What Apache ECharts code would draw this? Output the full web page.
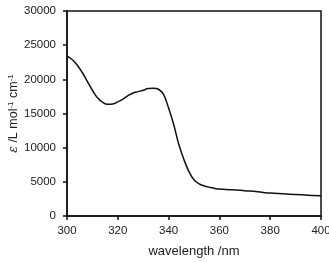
<!DOCTYPE html>
<html lang="en">
<head>
    <meta charset="UTF-8">
    <title>absorption spectrum</title>
    <script src="https://cdn.jsdelivr.net/npm/echarts@6/dist/echarts.min.js"></script>
    <style>
        html, body { margin: 0; padding: 0; background: #fff; }
        #main { width: 329px; height: 262px; }
    </style>
</head>
<body>
<div id="main"></div>
<script type="text/javascript">
    // wavelength (nm) and molar absorptivity
    var wavelength = [300, 302, 304, 306, 308, 310, 312, 314, 316, 318, 320, 322, 324, 326, 328, 330,
        332, 334, 336, 338, 340, 342, 344, 346, 348, 350, 352, 354, 356, 358, 360,
        365, 370, 375, 380, 385, 390, 395, 400];
    var epsilon = [23400, 22900, 22100, 21000, 19700, 18400, 17300, 16650, 16350, 16400, 16700, 17100, 17600, 18000, 18200, 18400,
        18650, 18700, 18550, 17800, 15800, 13400, 10500, 8300, 6500, 5300, 4700, 4400, 4200, 4050, 3950,
        3850, 3700, 3550, 3350, 3250, 3150, 3050, 2950];

    var myChart = echarts.init(document.getElementById('main'));
    var font = 'Liberation Sans, Arial, sans-serif';
    var txt = '#222';

    var points = [];
    for (var i = 0; i < wavelength.length; i++) {
        points.push([wavelength[i], epsilon[i]]);
    }

    var option = {
        animation: false,
        grid: {
            left: 67,
            right: 8,
            top: 11,
            bottom: 46,
            outerBoundsMode: 'none',
            show: true,
            borderColor: '#111',
            borderWidth: 1.5
        },
        xAxis: {
            type: 'value',
            min: 300,
            max: 400,
            interval: 20,
            name: 'wavelength /nm',
            nameLocation: 'middle',
            nameGap: 29,
            nameMoveOverlap: false,
            nameTextStyle: { fontFamily: font, fontSize: 13, color: txt },
            axisLine: { lineStyle: { color: '#111', width: 1.5 } },
            axisTick: { inside: false, length: 4, lineStyle: { color: '#111', width: 1.5 } },
            axisLabel: { fontFamily: font, fontSize: 11.5, color: txt, margin: 9 },
            splitLine: { show: false }
        },
        yAxis: {
            type: 'value',
            min: 0,
            max: 30000,
            interval: 5000,
            name: '{e|ε} /L mol{s|-1} cm{s|-1}',
            nameLocation: 'middle',
            nameRotate: 90,
            nameGap: 46,
            nameMoveOverlap: false,
            nameTextStyle: {
                fontFamily: font, fontSize: 12.5, color: txt,
                rich: {
                    e: { fontFamily: 'DejaVu Serif, serif', fontStyle: 'italic', fontSize: 12.5, color: txt },
                    s: { fontFamily: font, fontSize: 8, color: txt, verticalAlign: 'top', padding: [0, 0, 6, 0] }
                }
            },
            axisLine: { show: true, lineStyle: { color: '#111', width: 1.5 } },
            axisTick: { show: true, inside: false, length: 4, lineStyle: { color: '#111', width: 1.5 } },
            axisLabel: {
                fontFamily: font, fontSize: 11.5, color: txt, margin: 11,
                formatter: function (v) { return String(v); }
            },
            splitLine: { show: false }
        },
        series: [{
            type: 'line',
            data: points,
            smooth: 0.4,
            showSymbol: false,
            lineStyle: { color: '#111', width: 1.5 }
        }]
    };

    myChart.setOption(option);
</script>
</body>
</html>
